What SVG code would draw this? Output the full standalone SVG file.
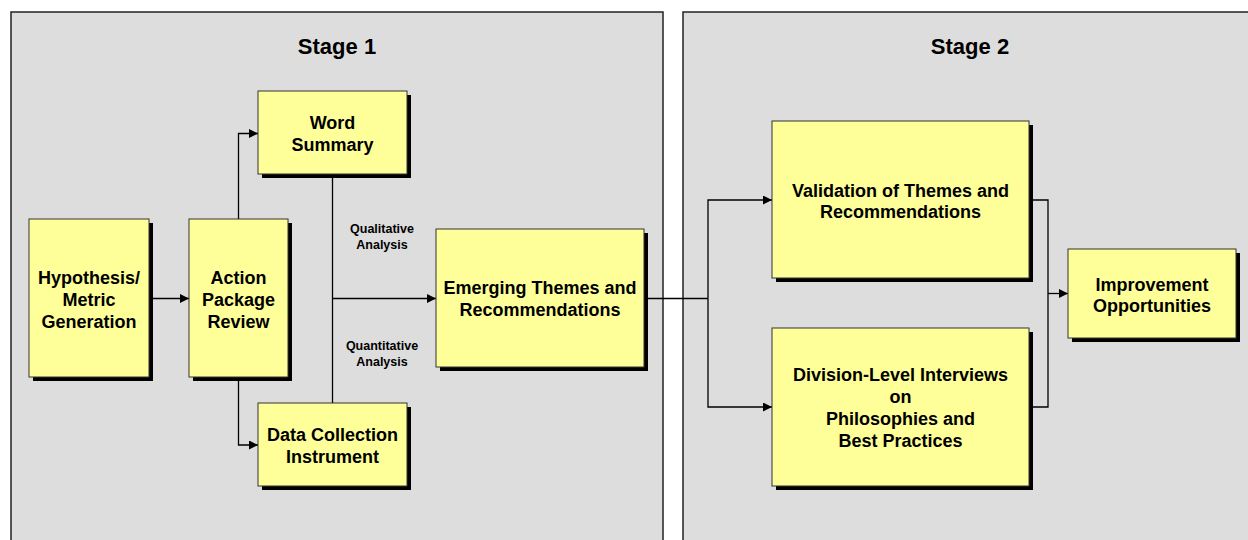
<svg xmlns="http://www.w3.org/2000/svg" width="1248" height="540" viewBox="0 0 1248 540">
<defs>
<marker id="arr" viewBox="0 0 10 10" refX="10" refY="5" markerWidth="9" markerHeight="9" markerUnits="userSpaceOnUse" orient="auto">
<path d="M0,0 L10,5 L0,10 Z" fill="#000"/>
</marker>
</defs>
<style>
.panel{fill:#dddddd;stroke:#222;stroke-width:1.5}
.box{fill:#ffff99;stroke:#333;stroke-width:1}
.shadow{fill:#000}
.t{font-family:"Liberation Sans",Arial,sans-serif;font-weight:bold;font-size:18px;text-anchor:middle;fill:#000}
.title{font-family:"Liberation Sans",Arial,sans-serif;font-weight:bold;font-size:22px;text-anchor:middle;fill:#000}
.lab{font-family:"Liberation Sans",Arial,sans-serif;font-weight:bold;font-size:12.5px;text-anchor:middle;fill:#000}
.c{fill:none;stroke:#000;stroke-width:1.3}
</style>
<rect width="1248" height="540" fill="#fff"/>
<g id="stage1">
<rect class="panel" x="11" y="12" width="652" height="540"/>
<text class="title" x="337" y="54">Stage 1</text>
</g>
<g id="stage2">
<rect class="panel" x="683" y="12" width="580" height="540"/>
<text class="title" x="970" y="54">Stage 2</text>
</g>
<g id="connectors">
<path class="c" d="M149,298.5 H189" marker-end="url(#arr)"/>
<path class="c" d="M238.5,219 V133.5 H258" marker-end="url(#arr)"/>
<path class="c" d="M238.5,377 V445 H258" marker-end="url(#arr)"/>
<path class="c" d="M332.5,174 V403"/>
<path class="c" d="M332.5,298.5 H436" marker-end="url(#arr)"/>
<path class="c" d="M644,298.5 H708"/>
<path class="c" d="M708,298.5 V200 H772" marker-end="url(#arr)"/>
<path class="c" d="M708,298.5 V407 H772" marker-end="url(#arr)"/>
<path class="c" d="M1029,200 H1048 V407 H1029"/>
<path class="c" d="M1048,293.5 H1068" marker-end="url(#arr)"/>
<text class="lab" x="382" y="233">Qualitative</text>
<text class="lab" x="382" y="249">Analysis</text>
<text class="lab" x="382" y="350">Quantitative</text>
<text class="lab" x="382" y="366">Analysis</text>
</g>
<g id="hypothesis">
<rect class="shadow" x="33" y="223" width="120" height="158"/>
<rect class="box" x="29" y="219" width="120" height="158"/>
<text class="t" x="89" y="284">Hypothesis/</text>
<text class="t" x="89" y="306">Metric</text>
<text class="t" x="89" y="328">Generation</text>
</g>
<g id="action">
<rect class="shadow" x="193" y="223" width="99" height="158"/>
<rect class="box" x="189" y="219" width="99" height="158"/>
<text class="t" x="238.5" y="284">Action</text>
<text class="t" x="238.5" y="306">Package</text>
<text class="t" x="238.5" y="328">Review</text>
</g>
<g id="word">
<rect class="shadow" x="262" y="95" width="149" height="83"/>
<rect class="box" x="258" y="91" width="149" height="83"/>
<text class="t" x="332.5" y="129">Word</text>
<text class="t" x="332.5" y="151">Summary</text>
</g>
<g id="data">
<rect class="shadow" x="262" y="407" width="149" height="83"/>
<rect class="box" x="258" y="403" width="149" height="83"/>
<text class="t" x="332.5" y="441">Data Collection</text>
<text class="t" x="332.5" y="463">Instrument</text>
</g>
<g id="emerging">
<rect class="shadow" x="440" y="233" width="208" height="138"/>
<rect class="box" x="436" y="229" width="208" height="138"/>
<text class="t" x="540" y="294">Emerging Themes and</text>
<text class="t" x="540" y="316">Recommendations</text>
</g>
<g id="validation">
<rect class="shadow" x="776" y="125" width="257" height="157"/>
<rect class="box" x="772" y="121" width="257" height="157"/>
<text class="t" x="900.5" y="197">Validation of Themes and</text>
<text class="t" x="900.5" y="218">Recommendations</text>
</g>
<g id="division">
<rect class="shadow" x="776" y="332" width="257" height="158"/>
<rect class="box" x="772" y="328" width="257" height="158"/>
<text class="t" x="900.5" y="381">Division-Level Interviews</text>
<text class="t" x="900.5" y="403">on</text>
<text class="t" x="900.5" y="425">Philosophies and</text>
<text class="t" x="900.5" y="447">Best Practices</text>
</g>
<g id="improvement">
<rect class="shadow" x="1072" y="253" width="168" height="89"/>
<rect class="box" x="1068" y="249" width="168" height="89"/>
<text class="t" x="1152" y="291">Improvement</text>
<text class="t" x="1152" y="312">Opportunities</text>
</g>
</svg>
